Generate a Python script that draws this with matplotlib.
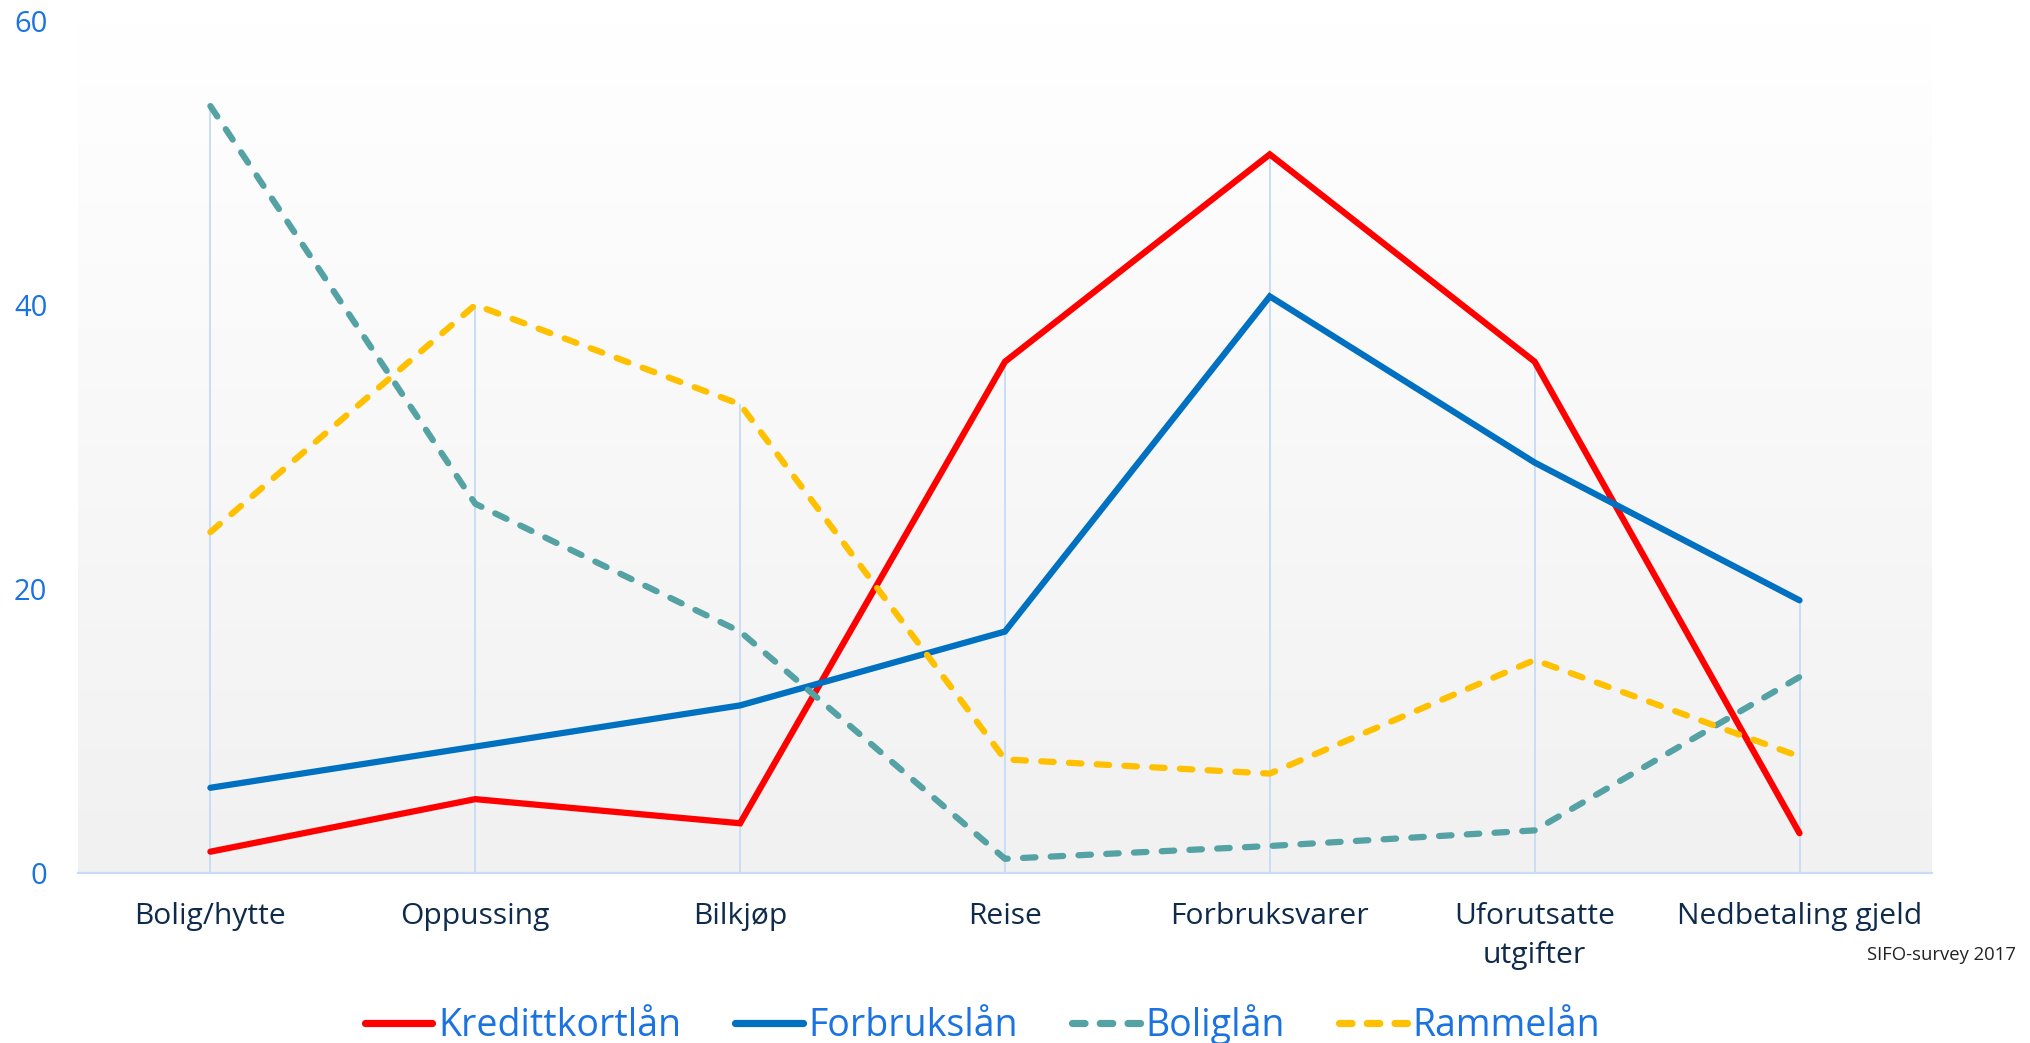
import numpy as np
import matplotlib.pyplot as plt
from matplotlib.colors import LinearSegmentedColormap

plt.rcParams["font.family"] = ["Open Sans", "DejaVu Sans"]
plt.rcParams["lines.scale_dashes"] = False

categories = ["Bolig/hytte", "Oppussing", "Bilkjøp", "Reise", "Forbruksvarer",
              "Uforutsatte\nutgifter", "Nedbetaling gjeld"]
kredittkort = [1.5, 5.2, 3.5, 36.0, 50.6, 36.0, 2.8]
forbruk = [6.0, 8.9, 11.8, 17.0, 40.6, 28.9, 19.2]
bolig = [54.0, 26.0, 17.0, 1.0, 1.9, 3.0, 13.8]
ramme = [24.0, 40.0, 33.0, 8.0, 7.0, 15.0, 8.2]
series_names = ["Kredittkortlån", "Forbrukslån", "Boliglån", "Rammelån"]
yticks = [0, 20, 40, 60]

COLORS = ["#ff0000", "#0070c0", "#55a2a5", "#ffc000"]
DASHED = [False, False, True, True]

fig = plt.figure(figsize=(20.3, 10.43), dpi=100)
ax = fig.add_axes([0.0384, 0.163, 0.9133, 0.817])

x = np.arange(len(categories))
ax.set_xlim(-0.5, len(categories) - 0.5)
ax.set_ylim(0, 60)

# background gradient (white top -> light grey bottom)
grad = np.linspace(1, 0, 256).reshape(-1, 1)
cmap = LinearSegmentedColormap.from_list("bg", ["#f1f1f1", "#ffffff"])
ax.imshow(grad, extent=[-0.5, len(categories) - 0.5, 0, 60], aspect="auto",
          cmap=cmap, vmin=0, vmax=1, zorder=0, origin="upper")

all_series = [kredittkort, forbruk, bolig, ramme]

# drop lines from the highest value down to the axis
tops = np.max(np.array(all_series), axis=0)
ax.vlines(x, 0, tops, color="#c8ddf5", lw=1.4, zorder=1)

for vals, name, col, dashed in zip(all_series, series_names, COLORS, DASHED):
    if dashed:
        ax.plot(x, vals, color=col, lw=4.5, label=name, zorder=3,
                dashes=(9, 11), dash_capstyle="round", solid_capstyle="round")
    else:
        ax.plot(x, vals, color=col, lw=4.5, label=name, zorder=3,
                solid_capstyle="round", solid_joinstyle="miter")

for s in ["top", "right", "left"]:
    ax.spines[s].set_visible(False)
ax.spines["bottom"].set_color("#c8ddf5")
ax.spines["bottom"].set_linewidth(1.6)
ax.spines["bottom"].set_zorder(2)

ax.set_xticks(x)
ax.set_xticklabels(categories, fontsize=21.6, color="#0f2b4c", linespacing=1.45)
ax.set_yticks(yticks)
ax.set_yticklabels([str(t) for t in yticks], fontsize=21, color="#1a73e0")
ax.tick_params(axis="x", length=0, pad=21)
ax.tick_params(axis="y", length=0, pad=22)

fig.text(0.993, 1 - 955 / 1043, "SIFO-survey 2017", ha="right", va="center",
         fontsize=13.3, color="#222222")

leg = fig.legend(loc="center", bbox_to_anchor=(0.484, 0.018), ncol=4,
                 frameon=False, fontsize=27, handlelength=1.8,
                 handletextpad=0.15, columnspacing=1.45)
for t in leg.get_texts():
    t.set_color("#1a73e0")
for h in leg.legend_handles:
    h.set_linewidth(5.2)

fig.savefig("out.png", dpi=100)
